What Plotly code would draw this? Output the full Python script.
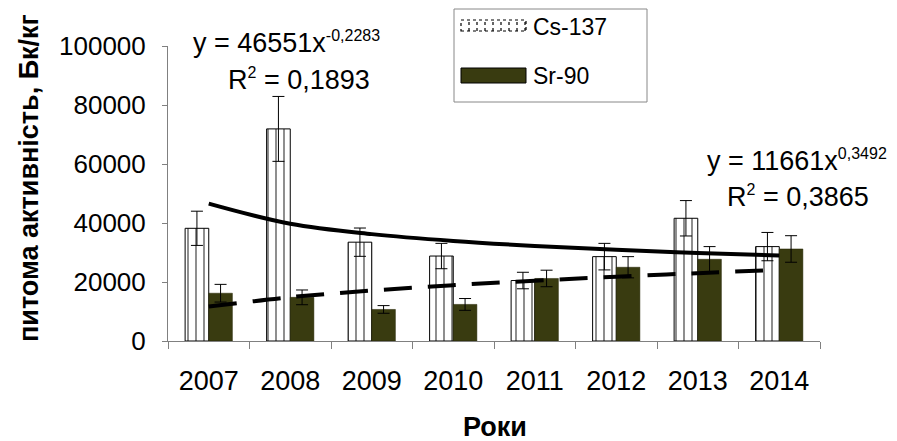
import plotly.graph_objects as go

years = ["2007", "2008", "2009", "2010", "2011", "2012", "2013", "2014"]
cs137 = [38200, 71900, 33500, 28800, 20500, 28600, 41600, 32000]
cs137_err = [5800, 11000, 4800, 4300, 2800, 4500, 6000, 4800]
sr90 = [16200, 14800, 10700, 12400, 21200, 25000, 27700, 31200]
sr90_err = [3000, 2500, 1300, 2000, 2800, 3600, 4300, 4500]
# power trend values at each year (from the trend equations shown on the chart)
cs_trend = [46551, 39736, 36226, 33918, 32237, 30923, 29853, 28954]
sr_trend = [11661, 14854, 17114, 18921, 20456, 21800, 23006, 24102]

FONT = "Arial, Liberation Sans, sans-serif"
OLIVE = "#393b10"

# plot area in screen pixels; page body has an 8px margin
OFF = 8
L, R, T, B = 168, 820, 46, 341
W, H = 897, 441


def px(x):
    return (x - L) / (R - L)


def py(y):
    return (B - y) / (B - T)


fig = go.Figure()
fig.add_trace(go.Bar(
    x=years, y=cs137, name="Cs-137",
    marker=dict(color="white", line=dict(color="black", width=1),
                pattern=dict(shape="|", fgcolor="black", bgcolor="white",
                             size=8, solidity=0.22)),
    error_y=dict(type="data", array=cs137_err, color="black", thickness=1, width=6),
    showlegend=False,
))
fig.add_trace(go.Bar(
    x=years, y=sr90, name="Sr-90",
    marker=dict(color=OLIVE, line=dict(color="#222200", width=0.5)),
    error_y=dict(type="data", array=sr90_err, color="black", thickness=1, width=6),
    showlegend=False,
))
fig.add_trace(go.Scatter(
    x=years, y=cs_trend, mode="lines", line=dict(color="black", width=4, shape="spline"),
    showlegend=False, hoverinfo="skip",
))
fig.add_trace(go.Scatter(
    x=years, y=sr_trend, mode="lines",
    line=dict(color="black", width=4, dash="28px,16px", shape="spline"),
    showlegend=False, hoverinfo="skip",
))

shapes = []
annotations = []
# manual legend box
shapes.append(dict(type="rect", xref="paper", yref="paper",
                   x0=px(454), x1=px(647), y0=py(102), y1=py(9),
                   line=dict(color="#888888", width=1), fillcolor="white", layer="above"))
# Cs icon
shapes.append(dict(type="rect", xref="paper", yref="paper",
                   x0=px(461), x1=px(526), y0=py(31), y1=py(20),
                   line=dict(color="black", width=1.2, dash="dot"), fillcolor="white", layer="above"))
for xi in range(469, 526, 8):
    shapes.append(dict(type="line", xref="paper", yref="paper",
                       x0=px(xi), x1=px(xi), y0=py(31), y1=py(20),
                       line=dict(color="black", width=1.2, dash="dot"), layer="above"))
# Sr icon
shapes.append(dict(type="rect", xref="paper", yref="paper",
                   x0=px(461), x1=px(526), y0=py(83), y1=py(68),
                   line=dict(color="black", width=1), fillcolor=OLIVE, layer="above"))
leg_font = dict(family=FONT, size=23, color="black")
annotations.append(dict(text="Cs-137", xref="paper", yref="paper", x=px(531), y=py(27),
                        xanchor="left", yanchor="middle", showarrow=False, font=leg_font))
annotations.append(dict(text="Sr-90", xref="paper", yref="paper", x=px(531), y=py(76),
                        xanchor="left", yanchor="middle", showarrow=False, font=leg_font))
# trend equations
eq_font = dict(family=FONT, size=27, color="black")
SUP = "<sup><span style='font-size:16px'>{}</span></sup>"
annotations += [
    dict(text="y = 46551x" + SUP.format("-0,2283"), xref="paper", yref="paper",
         x=px(286), y=py(42), xanchor="center", yanchor="middle", showarrow=False, font=eq_font),
    dict(text="R" + SUP.format("2") + " = 0,1893", xref="paper", yref="paper",
         x=px(299), y=py(80), xanchor="center", yanchor="middle", showarrow=False, font=eq_font),
    dict(text="y = 11661x" + SUP.format("0,3492"), xref="paper", yref="paper",
         x=px(797), y=py(160), xanchor="center", yanchor="middle", showarrow=False, font=eq_font),
    dict(text="R" + SUP.format("2") + " = 0,3865", xref="paper", yref="paper",
         x=px(798), y=py(197), xanchor="center", yanchor="middle", showarrow=False, font=eq_font),
]
# axis titles
annotations += [
    dict(text="<b>питома активність, Бк/кг</b>", xref="paper", yref="paper",
         x=px(29), y=py(178), textangle=-90, xanchor="center", yanchor="middle",
         showarrow=False, font=dict(family=FONT, size=27, color="black")),
    dict(text="<b>Роки</b>", xref="paper", yref="paper",
         x=px(495), y=py(427), xanchor="center", yanchor="middle",
         showarrow=False, font=dict(family=FONT, size=27, color="black")),
]

fig.update_layout(
    width=W - OFF, height=H - OFF,
    margin=dict(l=L - OFF, r=W - R, t=T - OFF, b=H - B, autoexpand=False),
    paper_bgcolor="white", plot_bgcolor="white",
    barmode="group", bargap=0.42, bargroupgap=0,
    font=dict(family=FONT, size=26, color="black"),
    shapes=shapes, annotations=annotations,
    xaxis=dict(type="category", showgrid=False, showline=True, linecolor="#808080",
               ticks="outside", tickson="boundaries", ticklen=7, tickcolor="#808080",
               ticklabelstandoff=16, tickfont=dict(size=27)),
    yaxis=dict(range=[0, 100000], dtick=20000, tickformat="d", showgrid=False,
               zeroline=False, showline=True, linecolor="#808080", ticks="outside",
               ticklen=5, tickcolor="#808080", ticklabelstandoff=11, automargin=False,
               tickfont=dict(size=26)),
)

fig.write_html("out.html")
